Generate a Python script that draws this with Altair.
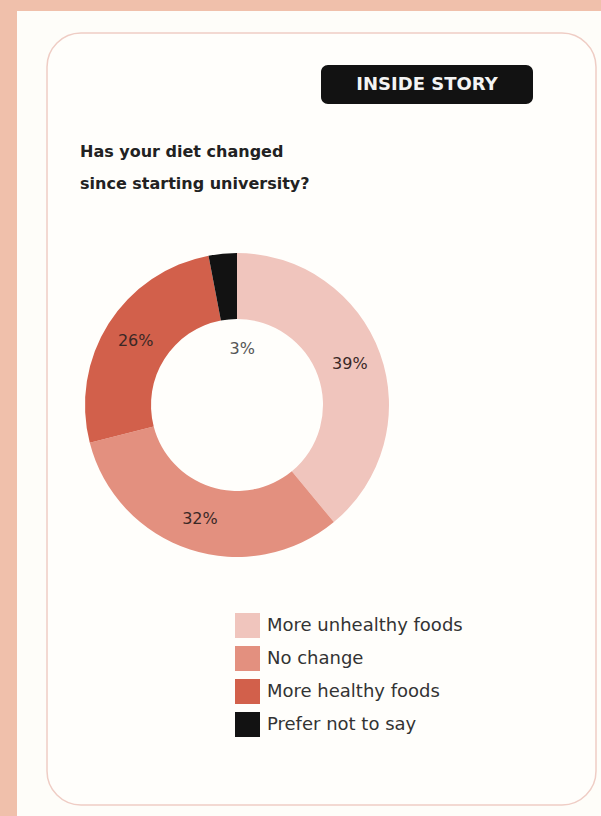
import altair as alt
import pandas as pd

categories = ["More unhealthy foods", "No change", "More healthy foods", "Prefer not to say"]
values = [39, 32, 26, 3]
colors = ["#f0c5bd", "#e3907f", "#d2604b", "#121212"]
title_lines = ["Has your diet changed", "since starting university?"]
badge_text = "INSIDE STORY"

df = pd.DataFrame({"category": categories, "pct": values, "idx": list(range(len(categories)))})
one = alt.Data(values=[{"k": 1}])

CX, CY = 237, 405
FONT = "DejaVu Sans"

color_scale = alt.Scale(domain=categories, range=colors)

page = alt.Chart(one).mark_rect(fill="#fefdf9").encode(
    x=alt.value(17), x2=alt.value(601), y=alt.value(11), y2=alt.value(816))

card = alt.Chart(one).mark_rect(fill="#fffefb", stroke="#efcdc5", strokeWidth=1.5, cornerRadius=34).encode(
    x=alt.value(47), x2=alt.value(596), y=alt.value(33), y2=alt.value(805))

badge = alt.Chart(one).mark_rect(fill="#121212", cornerRadius=7).encode(
    x=alt.value(321), x2=alt.value(533), y=alt.value(65), y2=alt.value(104))

badge_label = alt.Chart(one).mark_text(
    text=badge_text, font="DejaVu Sans", fontWeight="bold", fontSize=18, color="#f4f4f4",
    align="center", baseline="middle").encode(x=alt.value(427), y=alt.value(85))

title = alt.Chart(one).mark_text(
    text=title_lines, font=FONT, fontWeight="bold", fontSize=16, color="#222222",
    align="left", baseline="alphabetic", lineHeight=32).encode(x=alt.value(80), y=alt.value(157))

arcs = alt.Chart(df).mark_arc(outerRadius=152, innerRadius=86).encode(
    theta=alt.Theta("pct:Q", stack=True),
    order=alt.Order("idx:Q"),
    color=alt.Color("category:N", scale=color_scale, sort=categories,
                    legend=alt.Legend(title=None, orient="none", legendX=235, legendY=613,
                                      symbolType="square", symbolSize=625, symbolStrokeWidth=0,
                                      symbolOpacity=1, labelFontSize=18, labelFont=FONT,
                                      labelColor="#333333", labelOffset=7, rowPadding=8,
                                      padding=0, labelLimit=400)),
    x=alt.value(CX), y=alt.value(CY))

labels = alt.Chart(df).transform_calculate(
    lr="datum.pct < 5 ? 56 : 120",
    lbl="datum.pct + '%'",
    tc="datum.pct < 5 ? '#555555' : '#3a2826'"
).mark_text(font=FONT, fontSize=16, baseline="middle", align="center").encode(
    theta=alt.Theta("pct:Q", stack=True),
    order=alt.Order("idx:Q"),
    radius=alt.Radius("lr:Q", scale=None),
    text=alt.Text("lbl:N"),
    color=alt.Color("tc:N", scale=None),
    x=alt.value(CX), y=alt.value(CY))

chart = alt.layer(page, card, badge, badge_label, title, arcs, labels).properties(
    width=601, height=816, autosize=alt.AutoSizeParams(type="none"), padding=0,
    background="#f0c0ab"
).configure_view(stroke=None)

chart.save("out.html", embed_options={"renderer": "svg", "actions": False})
